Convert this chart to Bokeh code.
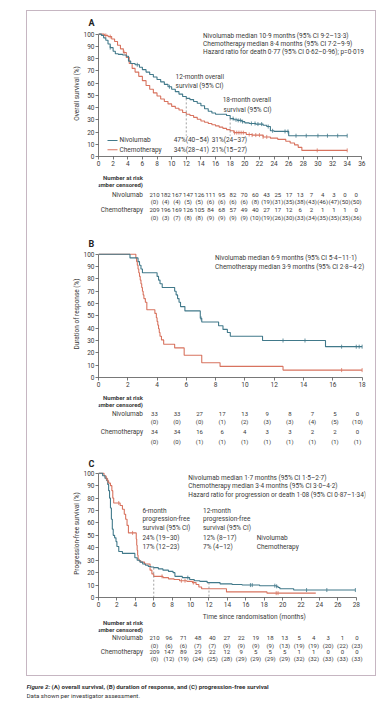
import numpy as np
from bokeh.plotting import figure
from bokeh.models import Range1d, FixedTicker, Title
from bokeh.layouts import column
from bokeh.embed import file_html
from bokeh.resources import INLINE
from bokeh.core.properties import value

# ---------------- data ----------------
# Panel A: overall survival (%)
a_nivo_t = [0, 0.4, 0.7, 1.0, 1.3, 1.6, 2.0, 2.3, 2.7, 3.3, 3.8, 4.1, 4.4, 5.0, 5.6, 6.0, 6.5, 7.0, 7.5, 8.0,
            8.5, 9.0, 9.5, 10.0, 10.5, 11.0, 11.5, 12.0, 12.5, 13.0, 13.5, 14.0, 14.5, 15.0, 15.5, 16.0, 17.5,
            18.0, 18.5, 19.0, 19.6, 20.0, 20.6, 21.5, 22.5, 23.0, 23.5, 24.0, 26.0, 34.0]
a_nivo_s = [100, 99, 97, 95, 92, 89, 86, 84, 83.5, 83, 82, 78, 76, 75, 73, 71, 69, 67, 65, 63,
            61, 59, 57, 55, 53, 51, 49, 47.5, 46.5, 45, 43.5, 41.5, 39, 37, 35.5, 34.5, 33.5,
            31, 30, 29.5, 28.5, 27.5, 27, 26.5, 25.5, 24.5, 21, 20.5, 17, 17]
a_chemo_t = [0, 0.8, 1.3, 1.8, 2.2, 2.6, 3.0, 3.4, 3.8, 4.2, 4.6, 5.0, 5.5, 6.0, 6.5, 7.0, 7.5, 8.0, 8.5,
             9.0, 9.5, 10.0, 10.5, 11.0, 11.5, 12.0, 12.5, 13.0, 13.5, 14.0, 14.5, 15.0, 15.5, 16.0, 16.5,
             17.0, 17.5, 18.0, 18.5, 20.2, 21.0, 22.5, 23.5, 24.5, 25.6, 26.2, 26.8, 27.3, 27.8, 34.0]
a_chemo_s = [100, 99, 98, 96, 94, 91, 88, 85, 81, 76, 72, 69, 65.5, 62, 58, 55, 52, 49.5, 47,
             45, 43, 41, 39.5, 38, 36, 34.5, 33.5, 32, 30.5, 29, 28, 27, 26, 25, 24,
             23, 22, 21, 19.5, 18, 17.5, 16, 15, 14, 12.5, 11, 9.5, 7.5, 5, 5]
a_nivo_cens = [1.6, 5.3, 9.7, 18.4, 18.8, 19.1, 19.4, 19.7, 20.9, 21.4, 21.8, 22.3, 23.2, 23.8, 25.5, 25.9,
               27.0, 28.4, 30.0, 31.3, 32.7, 34.0]
a_chemo_cens = [1.0, 1.6, 3.5, 18.6, 18.9, 19.2, 19.5, 19.8, 20.6, 21.0, 21.5, 22.0, 22.5, 23.0, 29.9, 34.0]
a_ticks = list(range(0, 37, 2))
a_nivo_risk = [210, 182, 167, 147, 126, 111, 95, 82, 70, 60, 43, 25, 17, 13, 7, 4, 3, 0, 0]
a_nivo_censored = [0, 4, 4, 5, 5, 6, 6, 6, 6, 8, 19, 31, 35, 38, 43, 46, 47, 50, 50]
a_chemo_risk = [209, 196, 169, 126, 105, 84, 68, 57, 49, 40, 27, 17, 12, 6, 2, 1, 1, 1, 0]
a_chemo_censored = [0, 3, 7, 8, 8, 9, 9, 9, 9, 10, 19, 26, 30, 33, 34, 35, 35, 35, 36]
a_stats = ["Nivolumab median 10·9 months (95% CI 9·2–13·3)",
           "Chemotherapy median 8·4 months (95% CI 7·2–9·9)",
           "Hazard ratio for death 0·77 (95% CI 0·62–0·96); p=0·019"]
a_12 = ["47%(40–54)", "34%(28–41)"]
a_18 = ["31%(24–37)", "21%(15–27)"]

# Panel B: duration of response (%)
b_nivo_t = [0, 2.15, 2.7, 2.8, 2.9, 3.0, 4.0, 4.1, 4.2, 4.35, 5.2, 5.3, 5.4, 5.5, 5.6, 5.9, 6.95, 7.05,
            8.2, 8.5, 8.8, 9.0, 11.2, 15.5, 18.0]
b_nivo_s = [100, 97, 94, 91, 88, 85, 82, 79, 76, 73, 70, 67, 64, 61, 57.5, 54, 48, 45,
            42, 39, 36.5, 33.5, 30, 25, 25]
b_chemo_t = [0, 2.55, 2.6, 2.65, 2.7, 2.75, 2.8, 2.85, 2.9, 2.95, 3.0, 3.05, 3.1, 3.2, 3.3, 3.85, 3.95,
             4.0, 4.05, 4.1, 4.15, 4.2, 4.3, 4.45, 5.2, 5.85, 7.05, 8.3, 12.6, 18.0]
b_chemo_s = [100, 97, 94, 91, 88, 85, 82, 79, 76, 73, 70, 67, 64, 61, 55, 52, 48.5,
             45.5, 42.5, 39.5, 36.5, 33.5, 30.5, 27, 24, 18, 12, 9, 6, 6]
b_nivo_cens = [7.0, 12.6, 14.1, 16.6, 17.6, 17.8, 18.0]
b_chemo_cens = [16.6, 18.0]
b_ticks = list(range(0, 19, 2))
b_nivo_risk = [33, 33, 27, 17, 13, 9, 8, 7, 5, 0]
b_nivo_censored = [0, 0, 0, 1, 2, 3, 3, 4, 5, 10]
b_chemo_risk = [34, 34, 16, 6, 4, 3, 3, 2, 2, 0]
b_chemo_censored = [0, 0, 1, 1, 1, 1, 1, 1, 1, 1]
b_stats = ["Nivolumab median 6·9 months (95% CI 5·4–11·1)",
           "Chemotherapy median 3·9 months (95% CI 2·8–4·2)"]

# Panel C: progression-free survival (%)
c_nivo_t = [0, 0.45, 0.7, 0.9, 1.0, 1.1, 1.2, 1.3, 1.4, 1.5, 1.6, 1.75, 1.9, 2.0, 2.2, 2.6, 3.95, 4.2, 4.5,
            4.8, 5.1, 5.4, 5.7, 6.0, 6.5, 7.0, 7.6, 8.1, 8.3, 9.1, 9.9, 10.4, 11.0, 11.8, 13.2, 14.5, 15.6,
            17.5, 19.3, 19.5, 19.7, 21.2, 27.9]
c_nivo_s = [100, 98, 96, 94, 91, 86, 80, 72, 63, 55, 50, 48, 45, 41, 37, 35.5, 32, 30, 28.5,
            27, 26, 25, 24.5, 24, 23, 22, 21, 20, 17, 16, 14.5, 13.5, 13, 12, 11, 10.5, 10,
            9.5, 9, 8, 7, 6, 6]
c_chemo_t = [0, 0.6, 0.8, 0.95, 1.1, 1.3, 1.45, 1.55, 1.65, 2.35, 2.6, 2.8, 2.95, 3.1, 3.25, 4.1, 4.15,
             4.2, 4.25, 4.3, 4.4, 4.6, 5.0, 5.6, 5.8, 6.0, 7.0, 7.6, 8.2, 8.8, 9.6, 10.2, 10.6, 10.9, 11.2,
             13.9, 18.3, 23.6]
c_chemo_s = [100, 98, 96, 94, 92, 90, 86, 80, 76, 74, 71, 67, 63, 58, 52, 47, 42,
             38, 34, 31, 29.5, 28.5, 27, 22, 19, 17, 16, 15, 14.5, 13.5, 13, 12, 10.5, 8.5, 7,
             4.5, 3.5, 3.5]
c_nivo_cens = [9.7, 16.5, 16.7, 19.15, 19.35, 22.6, 24.8, 27.9]
c_chemo_cens = [0.85, 1.0, 2.2, 3.7, 6.9, 9.0, 9.4, 10.3, 19.3, 19.5]
c_ticks = list(range(0, 29, 2))
c_nivo_risk = [210, 96, 71, 48, 40, 27, 22, 19, 18, 13, 5, 4, 3, 1, 0]
c_nivo_censored = [0, 6, 6, 7, 7, 9, 9, 9, 9, 13, 19, 19, 20, 22, 23]
c_chemo_risk = [209, 147, 89, 29, 22, 12, 9, 5, 5, 5, 1, 1, 0, 0, 0]
c_chemo_censored = [0, 12, 19, 24, 25, 28, 29, 29, 29, 29, 32, 32, 33, 33, 33]
c_stats = ["Nivolumab median 1·7 months (95% CI 1·5–2·7)",
           "Chemotherapy median 3·4 months (95% CI 3·0–4·2)",
           "Hazard ratio for progression or death 1·08 (95% CI 0·87–1·34)"]
c_6 = ["6-month", "progression-free", "survival (95% CI)", "24% (19–30)", "17% (12–23)"]
c_12 = ["12-month", "progression-free", "survival (95% CI)", "12% (8–17)", "7% (4–12)"]

# ---------------- style ----------------
FONT = "Roboto"
TXT = "#3a3a3a"
AX = "#555555"
NIVO = "#41798a"
CHEMO = "#d8735f"
DASH = "#8a8a8a"
BOX = "#c6b6c2"
FS = "6.5px"
NS = "6px"
W = 348
FL = 71


def at(ts, ss, t):
    ts = np.asarray(ts, float)
    ss = np.asarray(ss, float)
    idx = np.searchsorted(ts, np.atleast_1d(t), side="right") - 1
    return ss[np.clip(idx, 0, len(ss) - 1)]


def txt(p, x, y, t, align="left", size=FS, style="normal", color=TXT, x_offset=0, baseline="middle"):
    p.text(x=x, y=y, text=t, text_font=value(FONT), text_font_size=size, text_font_style=style,
           text_color=color, text_align=align, text_baseline=baseline, x_offset=x_offset)


def km_plot(xend, frame_w, frame_h, ticks, ylabel, letter, standoff):
    top, bottom = 19, 14
    p = figure(width=W, height=top + frame_h + bottom, x_range=Range1d(0, xend), y_range=Range1d(0, 103),
               min_border_left=FL, min_border_right=W - FL - frame_w, min_border_top=top,
               min_border_bottom=bottom, toolbar_location=None, output_backend="svg",
               title_location=None)
    p.add_layout(Title(text=letter, align="left", offset=-10, text_font="Roboto", text_font_size="9px",
                       text_font_style="bold", text_color="#222222", standoff=standoff), "above")
    p.grid.visible = False
    p.outline_line_color = None
    p.xaxis.ticker = FixedTicker(ticks=ticks)
    p.xaxis.bounds = (0, ticks[-1])
    p.yaxis.ticker = FixedTicker(ticks=list(range(0, 101, 10)))
    p.yaxis.bounds = (0, 100)
    for ax in (p.xaxis[0], p.yaxis[0]):
        ax.axis_line_color = AX
        ax.axis_line_width = 0.8
        ax.major_tick_line_color = AX
        ax.major_tick_line_width = 0.8
        ax.major_tick_out = 3
        ax.major_tick_in = 0
        ax.minor_tick_line_color = None
        ax.major_label_text_font = FONT
        ax.major_label_text_font_size = FS
        ax.major_label_text_color = TXT
        ax.major_label_standoff = 1
    p.yaxis.axis_label = ylabel
    p.yaxis.axis_label_text_font = FONT
    p.yaxis.axis_label_text_font_size = FS
    p.yaxis.axis_label_text_font_style = "normal"
    p.yaxis.axis_label_text_color = TXT
    p.yaxis.axis_label_standoff = 0
    return p


def curves(p, nt, ns, ct, cs, ncens, ccens):
    p.step(ct, cs, mode="after", line_color=CHEMO, line_width=1.1)
    p.step(nt, ns, mode="after", line_color=NIVO, line_width=1.1)
    p.scatter(ccens, at(ct, cs, ccens), marker="dash", angle=np.pi / 2, size=4, line_color=CHEMO, line_width=0.8)
    p.scatter(ncens, at(nt, ns, ncens), marker="dash", angle=np.pi / 2, size=4, line_color=NIVO, line_width=0.8)


def table_fig(h, k):
    t = figure(width=W, height=h, x_range=Range1d(-FL / k, (W - FL) / k), y_range=Range1d(h, 0),
               min_border=0, min_border_left=0, min_border_right=0, min_border_top=0, min_border_bottom=0,
               x_axis_location=None, y_axis_location=None,
               toolbar_location=None, output_backend="svg", title_location=None)
    t.grid.visible = False
    t.outline_line_color = None
    return t


def risk_rows(t, ticks, nr, nc, cr, cc, ys):
    zero = [0, 0]
    txt(t, zero, ys[0:2], ["Number at risk", "(number censored)"], align="right", style="bold",
        size=NS, x_offset=-10)
    txt(t, zero, [ys[2], ys[4]], ["Nivolumab", "Chemotherapy"], align="right", size=FS, x_offset=-10)
    txt(t, ticks, [ys[2]] * len(ticks), [str(v) for v in nr], align="center", size=NS, x_offset=1.5)
    txt(t, ticks, [ys[3]] * len(ticks), ["(%d)" % v for v in nc], align="center", size=NS, x_offset=1.5)
    txt(t, ticks, [ys[4]] * len(ticks), [str(v) for v in cr], align="center", size=NS, x_offset=1.5)
    txt(t, ticks, [ys[5]] * len(ticks), ["(%d)" % v for v in cc], align="center", size=NS, x_offset=1.5)


# ---------------- panel A ----------------
kA = 263 / 36
pA = km_plot(36.5, round(36.5 * kA), 126, a_ticks, "Overall survival (%)", "A", 5)
curves(pA, a_nivo_t, a_nivo_s, a_chemo_t, a_chemo_s, a_nivo_cens, a_chemo_cens)
pA.segment(x0=[12, 18], y0=[at(a_nivo_t, a_nivo_s, 12)[0], at(a_nivo_t, a_nivo_s, 18)[0]],
           x1=[12, 18], y1=[17, 17], line_color=DASH, line_dash="2 2", line_width=0.8)
txt(pA, [14.3] * 3, [98.1, 91.6, 85.3], a_stats)
txt(pA, [10.54, 10.54], [64.6, 58.0], ["12-month overall", "survival (95% CI)"])
txt(pA, [16.97, 17.1], [45.8, 38.4], ["18-month overall", "survival (95% CI)"])
pA.segment(x0=[1.23, 1.23], y0=[13.1, 5.5], x1=[2.6, 2.6], y1=[13.1, 5.5], line_color=[NIVO, CHEMO], line_width=1.1)
txt(pA, [2.87, 2.87], [13.1, 5.5], ["Nivolumab", "Chemotherapy"])
txt(pA, [10.27, 10.27], [13.1, 5.5], a_12)
txt(pA, [15.47, 15.47], [13.1, 5.5], a_18)

tA = table_fig(61, kA)
risk_rows(tA, a_ticks, a_nivo_risk, a_nivo_censored, a_chemo_risk, a_chemo_censored,
          [7, 14, 24, 31, 39, 46.5])

# ---------------- panel B ----------------
kB = 14.7
pB = km_plot(268 / kB, 268, 127, b_ticks, "Duration of response (%)", "B", 3)
curves(pB, b_nivo_t, b_nivo_s, b_chemo_t, b_chemo_s, b_nivo_cens, b_chemo_cens)
txt(pB, [7.96, 7.96], [96.8, 89.5], b_stats)

tB = table_fig(59, kB)
risk_rows(tB, b_ticks, b_nivo_risk, b_nivo_censored, b_chemo_risk, b_chemo_censored,
          [5.7, 13, 22.3, 29.7, 40.7, 49.7])

# ---------------- panel C ----------------
kC = 264 / 28
pC = km_plot(29, round(29 * kC), 128, c_ticks, "Progression-free survival (%)", "C", 2)
curves(pC, c_nivo_t, c_nivo_s, c_chemo_t, c_chemo_s, c_nivo_cens, c_chemo_cens)
pC.segment(x0=[6, 12], y0=[at(c_nivo_t, c_nivo_s, 6)[0], at(c_nivo_t, c_nivo_s, 12)[0]],
           x1=[6, 12], y1=[0, 0], line_color=DASH, line_dash="2 2", line_width=0.8)
txt(pC, [9.76] * 3, [96.3, 89.5, 82.6], c_stats)
ys6 = [69.4, 62.8, 56.1, 47.7, 40.5]
txt(pC, [4.77] * 5, ys6, c_6)
txt(pC, [11.35] * 5, ys6, c_12)
txt(pC, [17.18, 17.18], [47.7, 40.5], ["Nivolumab", "Chemotherapy"])

tC = table_fig(64, kC)
txt(tC, [14], [1], ["Time since randomisation (months)"], align="center", baseline="top")
risk_rows(tC, c_ticks, c_nivo_risk, c_nivo_censored, c_chemo_risk, c_chemo_censored,
          [10.7, 18.3, 26.7, 34.3, 40.3, 47.3])

# ---------------- caption ----------------
cap = figure(width=350, height=26, x_range=Range1d(0, 350), y_range=Range1d(26, 0), min_border=0,
             x_axis_location=None, y_axis_location=None, toolbar_location=None, output_backend="svg",
             margin=(0, 0, 0, 26), title_location=None)
cap.grid.visible = False
cap.outline_line_color = None
txt(cap, [0], [10], ["Figure 2:"], style="bold italic", size="6.2px", color="#333333")
txt(cap, [25], [10], ["(A) overall survival, (B) duration of response, and (C) progression-free survival"],
    style="bold", size="6.2px", color="#333333")
txt(cap, [0], [19.5], ["Data shown per investigator assessment."], size="6.2px", color="#333333")

box = column(pA, tA, pB, tB, pC, tC, margin=(10, 0, 0, 26),
             styles={"border": "1px solid " + BOX})
layout = column(box, cap)

open("out.html", "w").write(file_html(layout, INLINE))
